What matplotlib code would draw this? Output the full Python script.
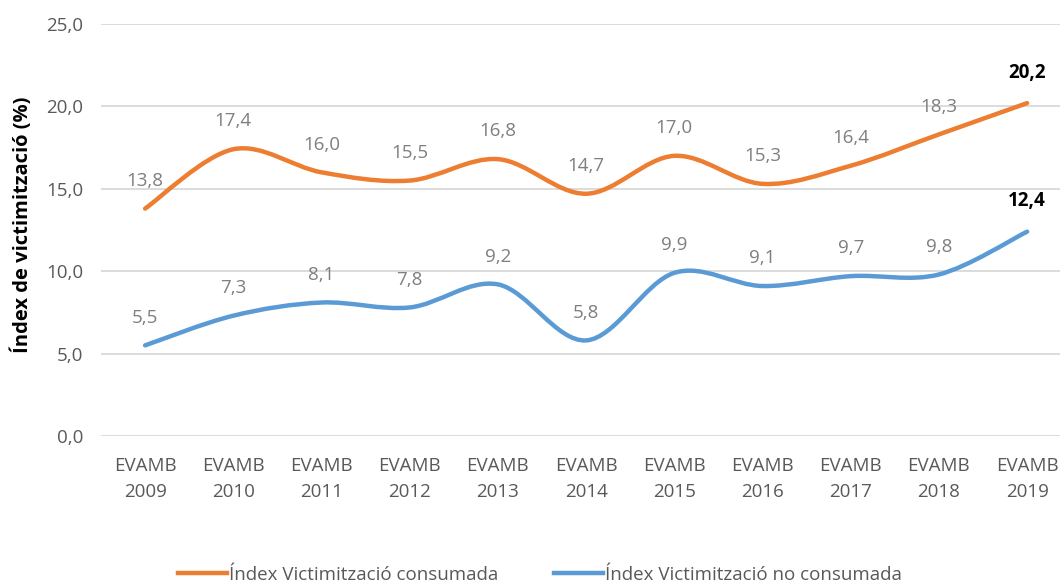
import numpy as np
import matplotlib
matplotlib.use('Agg')
import matplotlib.pyplot as plt
from matplotlib.path import Path
from matplotlib.patches import PathPatch
from matplotlib.lines import Line2D

years = ['2009', '2010', '2011', '2012', '2013', '2014', '2015', '2016', '2017', '2018', '2019']
consumada = [13.8, 17.4, 16.0, 15.5, 16.8, 14.7, 17.0, 15.3, 16.4, 18.3, 20.2]
no_consumada = [5.5, 7.3, 8.1, 7.8, 9.2, 5.8, 9.9, 9.1, 9.7, 9.8, 12.4]
series_names = ['Índex Victimització consumada', 'Índex Victimització no consumada']
colors = ['#ED7D31', '#5B9BD5']

plt.rcParams['font.family'] = ['Open Sans', 'DejaVu Sans']


def smooth_path(xs, ys):
    # bezier path through the points, like the spreadsheet "smoothed line"
    pts = np.column_stack([xs, ys]).astype(float)
    n = len(pts)
    verts = [pts[0]]
    codes = [Path.MOVETO]
    for i in range(n - 1):
        p0 = pts[max(i - 1, 0)]
        p1 = pts[i]
        p2 = pts[i + 1]
        p3 = pts[min(i + 2, n - 1)]
        c1 = p1 + (p2 - p0) / 6.0
        c2 = p2 - (p3 - p1) / 6.0
        verts += [c1, c2, p2]
        codes += [Path.CURVE4] * 3
    return Path(verts, codes)


fig = plt.figure(figsize=(10.6, 5.85), dpi=100)
ax = fig.add_axes([101 / 1060, 1 - 436 / 585, 1 - 101 / 1060, (436 - 24) / 585])

x = np.arange(len(years))
for vals, col in zip([consumada, no_consumada], colors):
    patch = PathPatch(smooth_path(x, vals), facecolor='none', edgecolor=col,
                      lw=3.2, capstyle='round', joinstyle='round', zorder=3)
    ax.add_patch(patch)
    for i, v in enumerate(vals):
        last = i == len(vals) - 1
        ax.annotate(f'{v:.1f}'.replace('.', ','), (x[i], v),
                    xytext=(0, 22 if last else 20),
                    textcoords='offset points', ha='center', va='center',
                    fontsize=13.5,
                    color='black' if last else '#7F7F7F',
                    fontweight='bold' if last else 'normal')

ax.set_xlim(-0.5, (1060 - 101) / 88.2 - 0.5)
ax.set_ylim(0, 25)
ax.set_yticks(np.arange(0, 26, 5))
ax.set_yticklabels([f'{v:.1f}'.replace('.', ',') for v in np.arange(0, 26, 5)])
ax.set_xticks(x)
ax.set_xticklabels(['EVAMB\n' + y for y in years], linespacing=1.6)
ax.tick_params(length=0, labelsize=13.5, colors='#595959')
ax.tick_params(axis='x', pad=15)
ax.tick_params(axis='y', pad=13)
for s in ax.spines.values():
    s.set_visible(False)
ax.grid(axis='y', color='#D9D9D9', lw=1.3)
ax.set_axisbelow(True)
ax.set_ylabel('Índex de victimització (%)', fontsize=14.5, fontweight='bold',
              color='black')
ax.yaxis.set_label_coords(-0.071, 0.512)

handles = [Line2D([], [], color=c, lw=3.2) for c in colors]
fig.legend(handles, series_names, loc='center', bbox_to_anchor=(540 / 1060, 1 - 575 / 585),
           ncol=2, frameon=False, fontsize=13.5, labelcolor='#595959',
           handlelength=2.6, handletextpad=0.1, columnspacing=3.0)

fig.savefig('out.png', dpi=100)
